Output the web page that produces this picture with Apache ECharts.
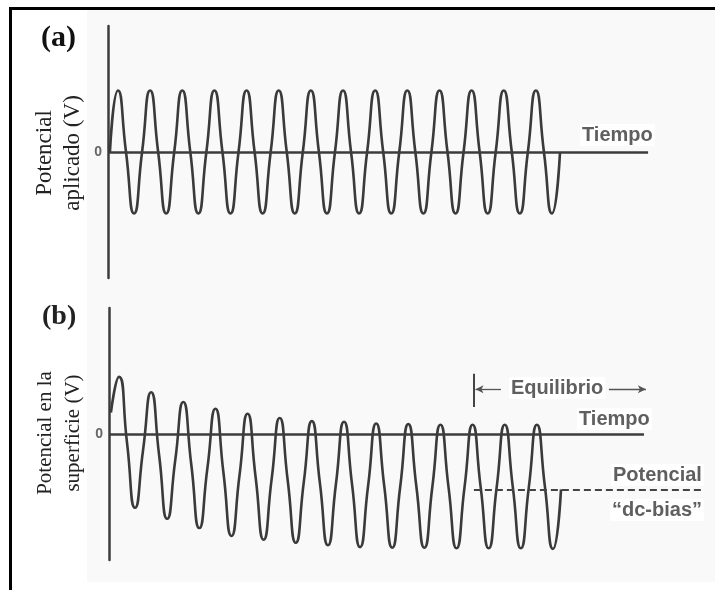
<!DOCTYPE html>
<html>
<head>
<meta charset="utf-8">
<script src="https://cdn.jsdelivr.net/npm/echarts@6/dist/echarts.min.js"></script>
<style>
html,body{margin:0;padding:0;background:#fff;}
#chart{width:715px;height:590px;}
</style>
</head>
<body>
<div id="chart"></div>
<script>
// Time axis (arbitrary units: one unit = one oscillation period), sampled at quarter periods
var TIME = [
  0.06,
  0.31, 0.56, 0.81, 1.06,
  1.31, 1.56, 1.81, 2.06,
  2.31, 2.56, 2.81, 3.06,
  3.31, 3.56, 3.81, 4.06,
  4.31, 4.56, 4.81, 5.06,
  5.31, 5.56, 5.81, 6.06,
  6.31, 6.56, 6.81, 7.06,
  7.31, 7.56, 7.81, 8.06,
  8.31, 8.56, 8.81, 9.06,
  9.31, 9.56, 9.81, 10.06,
  10.31, 10.56, 10.81, 11.06,
  11.31, 11.56, 11.81, 12.06,
  12.31, 12.56, 12.81, 13.06,
  13.31, 13.56, 13.81, 14.06
];

// (a) Applied potential (V, relative units)
var APPLIED = [
  0,
  1, 0, -1, 0,
  1, 0, -1, 0,
  1, 0, -1, 0,
  1, 0, -1, 0,
  1, 0, -1, 0,
  1, 0, -1, 0,
  1, 0, -1, 0,
  1, 0, -1, 0,
  1, 0, -1, 0,
  1, 0, -1, 0,
  1, 0, -1, 0,
  1, 0, -1, 0,
  1, 0, -1, 0,
  1, 0, -1, 0
];

// (b) Surface potential (V, relative units)
var SURFACE = [
  0.35,
  0.93, -0.14, -1.20, -0.26,
  0.68, -0.35, -1.38, -0.43,
  0.52, -0.50, -1.53, -0.56,
  0.41, -0.63, -1.66, -0.67,
  0.33, -0.70, -1.72, -0.73,
  0.26, -0.76, -1.77, -0.78,
  0.21, -0.80, -1.81, -0.81,
  0.20, -0.82, -1.84, -0.84,
  0.17, -0.84, -1.85, -0.85,
  0.16, -0.85, -1.85, -0.85,
  0.15, -0.86, -1.86, -0.86,
  0.15, -0.86, -1.86, -0.86,
  0.15, -0.86, -1.86, -0.86,
  0.15, -0.86, -1.87, -0.90
];

var Y_TITLES = ['Potencial\naplicado (V)', 'Potencial en la\nsuperficie (V)'];

var DC_BIAS = -0.90;          // equilibrium dc-bias level
var EQ_START = 11.35;         // start of equilibrium
var X_MAX = 18.57;
var Y_MIN = -2.05, Y_MAX = 2.05;
var ZERO_END_A = 16.80, ZERO_END_B = 16.64;
var DC_END = 18.41;
var ARROW_Y = 0.73;
var ARROW_L = [12.19, 11.40];
var ARROW_R = [15.55, 16.70];
var TICK_Y = [0.98, 0.44];

function pairs(xs, ys){ return xs.map(function(x,i){ return [x, ys[i]]; }); }

var chart = echarts.init(document.getElementById('chart'), null, {renderer:'canvas'});

var WAVE = '#3a3a3a';
var AXIS = '#3c3c3c';
var LABEL_GRAY = '#5f5f5f';

function yAxisDef(gi){
  return {
    type:'value', gridIndex:gi, min:Y_MIN, max:Y_MAX,
    axisLine:{show:true, onZero:false, lineStyle:{color:AXIS, width:2.5}},
    axisTick:{show:false}, splitLine:{show:false},
    axisLabel:{show:true, customValues:[0], formatter:function(v){return v===0?'0':'';},
      color:'#666', fontWeight:'bold', fontSize:14, fontFamily:'Liberation Sans', margin:6}
  };
}

var option = {
  animation:false,
  backgroundColor:'#fff',
  grid:[
    {left:108, top:26, width:597, height:252},
    {left:109, top:308, width:597, height:252}
  ],
  xAxis:[
    {type:'value', gridIndex:0, min:0, max:X_MAX, show:false},
    {type:'value', gridIndex:1, min:0, max:X_MAX, show:false}
  ],
  yAxis:[ yAxisDef(0), yAxisDef(1) ],
  graphic:[
    {type:'rect', z:-10, silent:true, shape:{x:87, y:10, width:628, height:572}, style:{fill:'#f9f9f9'}},
    {type:'line', z:10, silent:true, shape:{x1:10.5, y1:7, x2:10.5, y2:590}, style:{stroke:'#000', lineWidth:3}},
    {type:'line', z:10, silent:true, shape:{x1:9, y1:8.5, x2:715, y2:8.5}, style:{stroke:'#000', lineWidth:3}},
    {type:'text', z:10, x:59, y:153, rotation:Math.PI/2,
      style:{text:Y_TITLES[0], font:'23px "Liberation Serif"', lineHeight:28, fill:'#222', align:'center', verticalAlign:'middle'}},
    {type:'text', z:10, x:59, y:433, rotation:Math.PI/2,
      style:{text:Y_TITLES[1], font:'21px "Liberation Serif"', lineHeight:28, fill:'#222', align:'center', verticalAlign:'middle'}},
    {type:'text', z:10, x:41, y:23, style:{text:'(a)', font:'bold 30px "Liberation Serif"', fill:'#111'}},
    {type:'text', z:10, x:42, y:303, style:{text:'(b)', font:'bold 28px "Liberation Serif"', fill:'#222'}},
    {type:'text', z:10, x:580, y:135, style:{text:'Tiempo', font:'bold 20px "Liberation Sans"', fill:LABEL_GRAY, verticalAlign:'middle', backgroundColor:'#fff', padding:[1,2]}},
    {type:'text', z:10, x:577, y:419, style:{text:'Tiempo', font:'bold 20px "Liberation Sans"', fill:LABEL_GRAY, verticalAlign:'middle', backgroundColor:'#fff', padding:[1,2]}},
    {type:'text', z:10, x:509, y:388, style:{text:'Equilibrio', font:'bold 20px "Liberation Sans"', fill:LABEL_GRAY, verticalAlign:'middle', backgroundColor:'#fff', padding:[1,2]}},
    {type:'text', z:10, x:611, y:475, style:{text:'Potencial', font:'bold 20px "Liberation Sans"', fill:LABEL_GRAY, verticalAlign:'middle', backgroundColor:'#fff', padding:[1,2]}},
    {type:'text', z:10, x:610, y:510, style:{text:'\u201Cdc-bias\u201D', font:'bold 20px "Liberation Sans"', fill:LABEL_GRAY, verticalAlign:'middle', backgroundColor:'#fff', padding:[1,2]}}
  ],
  series:[
    {
      type:'line', xAxisIndex:0, yAxisIndex:0, data:pairs(TIME, APPLIED),
      showSymbol:false, smooth:0.6, clip:false,
      lineStyle:{color:WAVE, width:2.6},
      markLine:{
        silent:true, symbol:['none','none'], label:{show:false}, animation:false,
        lineStyle:{color:AXIS, width:2.5, type:'solid'},
        data:[[{coord:[0,0]},{coord:[ZERO_END_A,0]}]]
      }
    },
    {
      type:'line', xAxisIndex:1, yAxisIndex:1, data:pairs(TIME, SURFACE),
      showSymbol:false, smooth:0.6, clip:false,
      lineStyle:{color:WAVE, width:2.6},
      markLine:{
        silent:true, symbol:['none','none'], label:{show:false}, animation:false,
        lineStyle:{color:AXIS, width:2.5, type:'solid'},
        data:[
          [{coord:[0,0]},{coord:[ZERO_END_B,0]}],
          [{coord:[EQ_START, DC_BIAS], lineStyle:{color:'#444', width:2, type:[7,4]}},{coord:[DC_END, DC_BIAS]}],
          [{coord:[EQ_START, TICK_Y[0]], lineStyle:{color:'#444', width:2, type:'solid'}},{coord:[EQ_START, TICK_Y[1]]}],
          [{coord:[ARROW_L[0], ARROW_Y], symbol:'none', lineStyle:{color:'#555', width:1.3, type:'solid'}},{coord:[ARROW_L[1], ARROW_Y], symbol:'arrow', symbolSize:[6,8]}],
          [{coord:[ARROW_R[0], ARROW_Y], symbol:'none', lineStyle:{color:'#555', width:1.3, type:'solid'}},{coord:[ARROW_R[1], ARROW_Y], symbol:'arrow', symbolSize:[6,8]}]
        ]
      }
    }
  ]
};
chart.setOption(option);
</script>
</body>
</html>
